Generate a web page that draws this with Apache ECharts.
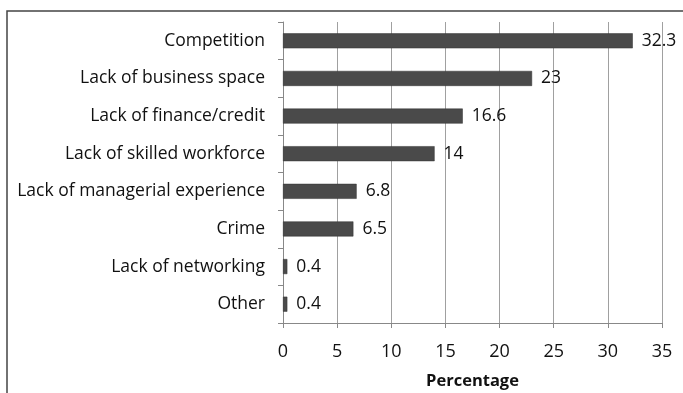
<!DOCTYPE html>
<html><head><meta charset="utf-8">
<script src="https://cdn.jsdelivr.net/npm/echarts@6/dist/echarts.min.js"></script>
<style>html,body{margin:0;padding:0;background:#fff}#c{width:683px;height:393px}</style>
</head><body><div id="c"></div>
<script>
const categories = ["Competition","Lack of business space","Lack of finance/credit","Lack of skilled workforce","Lack of managerial experience","Crime","Lack of networking","Other"];
const values = [32.3,23,16.6,14,6.8,6.5,0.4,0.4];
const xTicks = [0,5,10,15,20,25,30,35];
const font = "'Open Sans', sans-serif";
const chart = echarts.init(document.getElementById('c'));
chart.setOption({
  animation:false,
  grid:{left:283,right:21,top:22,bottom:70,containLabel:false,outerBoundsMode:'none'},
  graphic:[{type:'rect',shape:{x:7,y:11,width:700,height:400},style:{fill:'none',stroke:'#444',lineWidth:1.5},z:-1}],
  xAxis:{type:'value',min:xTicks[0],max:xTicks[xTicks.length-1],interval:5,
    name:'Percentage',nameLocation:'middle',nameGap:50,
    nameTextStyle:{fontFamily:font,fontWeight:'bold',fontSize:16.5,color:'#111'},
    axisLine:{show:true,lineStyle:{color:'#888',width:1}},
    axisTick:{show:true,length:5,lineStyle:{color:'#888'}},
    axisLabel:{fontFamily:font,fontSize:18,color:'#111',margin:20},
    splitLine:{show:true,lineStyle:{color:'#a0a0a0',width:1}}},
  yAxis:{type:'category',data:categories,inverse:true,
    axisLine:{show:true,lineStyle:{color:'#888'}},
    axisTick:{show:true,length:5,lineStyle:{color:'#888'}},
    axisLabel:{fontFamily:font,fontSize:17.5,color:'#111',margin:18}},
  series:[{type:'bar',data:values,barWidth:15,
    itemStyle:{color:'#4a4a4a',borderColor:'#333',borderWidth:0.5},
    label:{show:true,position:'right',distance:9,fontFamily:font,fontSize:17.5,color:'#111'}}]
});
</script></body></html>
